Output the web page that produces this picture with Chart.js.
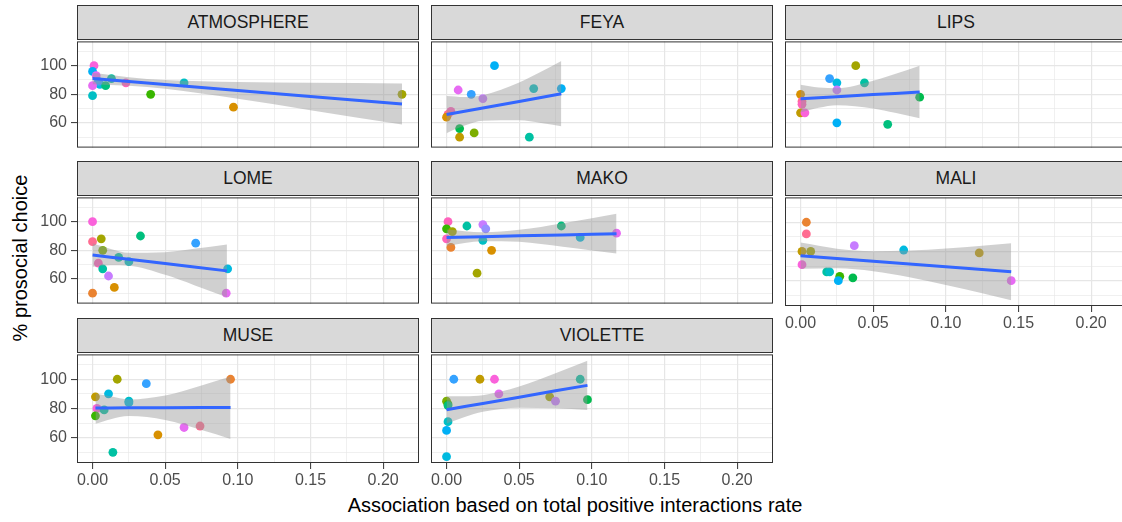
<!DOCTYPE html>
<html>
<head>
<meta charset="utf-8">
<script src="https://cdn.jsdelivr.net/npm/chart.js@4.4.1/dist/chart.umd.min.js"></script>
<style>
  html, body { margin: 0; padding: 0; background: #fff; overflow: hidden; width: 1122px; height: 522px; }
  #wrap { position: relative; width: 1122px; height: 522px; font-family: "Liberation Sans", Arial, sans-serif; }
  .strip { position: absolute; box-sizing: border-box; height: 35px; width: 342px; background: #d9d9d9;
           border: 1px solid #333; color: #1a1a1a; font-size: 17.5px; display: flex;
           align-items: center; justify-content: center; }
  canvas { position: absolute; }
  .xtitle { position: absolute; left: 325px; width: 500px; top: 493px; font-size: 20px; line-height: 24px;
            text-align: center; color: #000; }
  .ytitle { position: absolute; left: -80px; top: 246px; width: 200px; font-size: 20px; line-height: 24px;
            text-align: center; color: #000; transform: rotate(-90deg); }
</style>
</head>
<body>
<div id="wrap">
  <div class="ytitle">% prosocial choice</div>
  <div class="xtitle">Association based on total positive interactions rate</div>
</div>
<script>
// facettes (ordre de lecture)
const panels = ["ATMOSPHERE", "FEYA", "LIPS", "LOME", "MAKO", "MALI", "MUSE", "VIOLETTE"];

// graduations
const xMajorTicks = [0, 0.05, 0.10, 0.15, 0.20];
const xMinorTicks = [0.025, 0.075, 0.125, 0.175];
const yMajorTicks = [60, 80, 100];
const yMinorTicks = [50, 70, 90, 110];

// points : x, y et individu (indice dans la palette)
const pointX = [
  [0.001, 0.000, 0.0025, 0.005, 0.004, 0.000, 0.009, 0.013, 0.023, 0.000, 0.040, 0.063, 0.097, 0.213],
  [0.033, 0.008, 0.060, 0.079, 0.017, 0.025, 0.003, 0.001, 0.000, 0.009, 0.019, 0.009, 0.057],
  [0.038, 0.020, 0.025, 0.044, 0.025, 0.000, 0.001, 0.001, 0.000, 0.003, 0.025, 0.060, 0.082],
  [0.000, 0.000, 0.006, 0.007, 0.033, 0.071, 0.018, 0.025, 0.004, 0.007, 0.011, 0.015, 0.000, 0.093, 0.092],
  [0.001, 0.000, 0.004, 0.014, 0.025, 0.027, 0.079, 0.000, 0.025, 0.092, 0.117, 0.003, 0.031, 0.021],
  [0.004, 0.004, 0.001, 0.007, 0.037, 0.071, 0.123, 0.001, 0.018, 0.020, 0.027, 0.026, 0.036, 0.145],
  [0.017, 0.095, 0.037, 0.002, 0.011, 0.025, 0.025, 0.003, 0.008, 0.002, 0.063, 0.074, 0.045, 0.014],
  [0.005, 0.023, 0.033, 0.092, 0.036, 0.071, 0.075, 0.097, 0.000, 0.001, 0.001, 0.001, 0.000, 0.000]
];
const pointY = [
  [100, 96, 93, 87, 89, 86, 86, 91, 88, 79, 80, 88, 71, 80],
  [100, 83, 84, 84, 80, 77, 68, 66, 64, 56, 53, 50, 50],
  [100, 91, 88, 88, 83, 80, 75, 73, 67, 67, 60, 59, 78],
  [100, 86, 88, 80, 90, 85, 75, 72, 71, 67, 62, 54, 50, 67, 50],
  [100, 95, 93, 97, 98, 95, 97, 88, 87, 89, 92, 82, 80, 64],
  [100, 92, 80, 80, 84, 81, 79, 71, 66, 66, 63, 60, 62, 60],
  [100, 100, 97, 88, 90, 85, 84, 80, 79, 75, 67, 68, 62, 50],
  [100, 100, 100, 100, 90, 88, 85, 86, 85, 83, 82, 71, 65, 47]
];
const pointGroup = [
  [17, 12, 16, 11, 13, 16, 8, 9, 18, 10, 6, 10, 2, 4],
  [12, 16, 10, 12, 13, 15, 18, 19, 2, 7, 5, 3, 9],
  [4, 13, 11, 9, 15, 2, 19, 18, 3, 17, 12, 8, 7],
  [17, 19, 4, 5, 8, 13, 9, 10, 18, 9, 15, 2, 1, 11, 16],
  [18, 6, 4, 9, 15, 14, 8, 18, 10, 11, 16, 1, 2, 4],
  [1, 19, 3, 4, 15, 11, 3, 17, 9, 10, 6, 12, 7, 16],
  [4, 1, 13, 3, 11, 10, 11, 17, 9, 6, 16, 19, 2, 9],
  [13, 3, 17, 9, 16, 4, 15, 7, 5, 6, 8, 10, 12, 11]
];

// droite de régression et intervalle de confiance
const fitX = [
  [0, 0.025, 0.05, 0.10, 0.15, 0.213],
  [0, 0.0125, 0.025, 0.05, 0.065, 0.079],
  [0, 0.0125, 0.025, 0.05, 0.065, 0.082],
  [0, 0.0125, 0.025, 0.05, 0.07, 0.0925],
  [0, 0.025, 0.05, 0.08, 0.10, 0.117],
  [0, 0.025, 0.05, 0.075, 0.10, 0.125, 0.145],
  [0.002, 0.0125, 0.025, 0.05, 0.075, 0.095],
  [0, 0.0125, 0.025, 0.05, 0.075, 0.097]
];
const fitY = [
  [91.1, 89.0, 86.9, 82.7, 78.5, 73.2],
  [65.8, 68.1, 70.4, 75.0, 77.8, 80.4],
  [76.9, 77.6, 78.3, 79.8, 80.6, 81.6],
  [76.7, 75.2, 73.7, 70.7, 68.3, 65.6],
  [88.9, 89.5, 90.1, 90.7, 91.2, 91.6],
  [77.1, 75.2, 73.35, 71.5, 69.6, 67.75, 66.2],
  [80.4, 80.4, 80.5, 80.5, 80.6, 80.6],
  [79.1, 81.3, 83.4, 87.75, 92.1, 95.8]
];
const bandLo = [
  [87.1, 86.0, 83.8, 76.8, 68.9, 58.8],
  [52.8, 58.1, 61.5, 61.8, 59.9, 57.6],
  [67.2, 70.5, 72.3, 70.1, 67.0, 63.2],
  [68.5, 69.5, 69.2, 62.8, 55.6, 47.1],
  [83.2, 86.4, 85.9, 82.4, 79.9, 77.7],
  [68.1, 68.5, 66.5, 62.4, 57.1, 51.4, 46.7],
  [69.5, 72.7, 74.8, 72.1, 65.2, 59.2],
  [69.8, 74.2, 77.7, 80.5, 80.1, 78.9]
];
const bandHi = [
  [95.1, 92.0, 90.0, 88.6, 88.1, 87.6],
  [78.8, 78.1, 79.3, 88.2, 95.7, 103.2],
  [86.6, 84.7, 84.3, 89.5, 94.2, 100.0],
  [84.9, 80.9, 78.2, 78.6, 81.0, 84.1],
  [94.6, 92.6, 94.3, 99.0, 102.5, 105.5],
  [86.1, 81.9, 80.2, 80.6, 82.1, 84.0, 85.7],
  [90.0, 88.3, 86.2, 88.9, 95.8, 101.8],
  [88.4, 88.4, 89.1, 95.0, 104.1, 112.7]
];

// palette ggplot (hue_pal, 20 niveaux)
const palette = ["#F8766D", "#EA8331", "#D89000", "#C09B00", "#A3A500", "#7CAE00", "#39B600", "#00BB4E",
  "#00BF7D", "#00C1A3", "#00BFC4", "#00BAE0", "#00B0F6", "#35A2FF", "#9590FF", "#C77CFF",
  "#E76BF3", "#FA62DB", "#FF62BC", "#FF6C91"];

const FONT = "'Liberation Sans', Arial, sans-serif";
const colLeft = [77, 431, 785];
const rowTop = [39, 195, 352];
const plotW = 342, plotH = 111;
const xRange = [-0.0107, 0.2247];
const yRange = [42.7, 117];

const isMajorX = v => xMajorTicks.some(t => Math.abs(t - v) < 1e-9);
const isMajorY = v => yMajorTicks.includes(v);

const panelBox = {
  id: "panelBox",
  afterDraw(chart) {
    const { ctx, chartArea: a } = chart;
    ctx.save();
    ctx.strokeStyle = "#333";
    ctx.lineWidth = 1;
    ctx.strokeRect(a.left + 0.5, a.top + 0.5, a.right - a.left - 1, a.bottom - a.top - 1);
    ctx.restore();
  }
};

const wrap = document.getElementById("wrap");

panels.forEach((name, i) => {
  const row = Math.floor(i / 3), col = i % 3;
  const showX = row === 2 || name === "MALI";
  const showY = col === 0;
  const leftPad = showY ? 50 : 20;
  const bottomPad = showX ? 30 : 0;

  const strip = document.createElement("div");
  strip.className = "strip";
  strip.style.left = colLeft[col] + "px";
  strip.style.top = (rowTop[row] - 34) + "px";
  strip.textContent = name;
  wrap.appendChild(strip);

  const canvas = document.createElement("canvas");
  canvas.width = leftPad + plotW + 20;
  canvas.height = 2 + plotH + bottomPad + (showX ? 0 : 2);
  canvas.style.left = (colLeft[col] - leftPad) + "px";
  canvas.style.top = (rowTop[row] - 2) + "px";
  wrap.appendChild(canvas);

  const pts = pointX[i].map((x, k) => ({ x: x, y: pointY[i][k] }));
  const fit = fitX[i].map((x, k) => ({ x: x, y: fitY[i][k] }));
  const lo = fitX[i].map((x, k) => ({ x: x, y: bandLo[i][k] }));
  const hi = fitX[i].map((x, k) => ({ x: x, y: bandHi[i][k] }));

  new Chart(canvas, {
    type: "scatter",
    data: {
      datasets: [
        { type: "scatter", data: pts, backgroundColor: pointGroup[i].map(g => palette[g]),
          pointRadius: 4.4, pointBorderWidth: 0, borderWidth: 0, order: 3 },
        { type: "line", data: lo, borderColor: "transparent", pointRadius: 0, fill: false,
          cubicInterpolationMode: "monotone", order: 2 },
        { type: "line", data: hi, borderColor: "transparent", pointRadius: 0, fill: 1,
          backgroundColor: "rgba(150,150,150,0.45)", cubicInterpolationMode: "monotone", order: 2 },
        { type: "line", data: fit, borderColor: "#3366ff", borderWidth: 3, pointRadius: 0,
          fill: false, order: 1 }
      ]
    },
    options: {
      responsive: false,
      animation: false,
      devicePixelRatio: 1,
      layout: { padding: { top: 2, right: 20, bottom: showX ? 0 : 2, left: 0 } },
      plugins: { legend: { display: false }, tooltip: { enabled: false } },
      scales: {
        x: {
          type: "linear", min: xRange[0], max: xRange[1],
          afterBuildTicks: s => { s.ticks = xMajorTicks.concat(xMinorTicks).sort((a, b) => a - b).map(v => ({ value: v })); },
          afterFit: s => { s.height = bottomPad; s.paddingLeft = 0; s.paddingRight = 0; },
          border: { display: false },
          grid: {
            color: "#e6e6e6",
            lineWidth: c => isMajorX(c.tick.value) ? 1.2 : 0.6,
            drawTicks: showX, tickLength: 6, tickWidth: 1,
            tickColor: c => isMajorX(c.tick.value) ? "#333" : "rgba(0,0,0,0)"
          },
          ticks: {
            display: showX, padding: 2, color: "#4d4d4d", font: { family: FONT, size: 16 },
            maxRotation: 0, autoSkip: false,
            callback: v => isMajorX(v) ? v.toFixed(2) : ""
          }
        },
        y: {
          type: "linear", min: yRange[0], max: yRange[1],
          afterBuildTicks: s => { s.ticks = yMajorTicks.concat(yMinorTicks).sort((a, b) => a - b).map(v => ({ value: v })); },
          afterFit: s => { s.width = leftPad; s.paddingTop = 0; s.paddingBottom = 0; },
          border: { display: false },
          grid: {
            color: "#e6e6e6",
            lineWidth: c => isMajorY(c.tick.value) ? 1.2 : 0.6,
            drawTicks: showY, tickLength: 6, tickWidth: 1,
            tickColor: c => isMajorY(c.tick.value) ? "#333" : "rgba(0,0,0,0)"
          },
          ticks: {
            display: showY, padding: 4, color: "#4d4d4d", font: { family: FONT, size: 16 },
            autoSkip: false,
            callback: v => isMajorY(v) ? String(v) : ""
          }
        }
      }
    },
    plugins: [panelBox]
  });
});
</script>
</body>
</html>
